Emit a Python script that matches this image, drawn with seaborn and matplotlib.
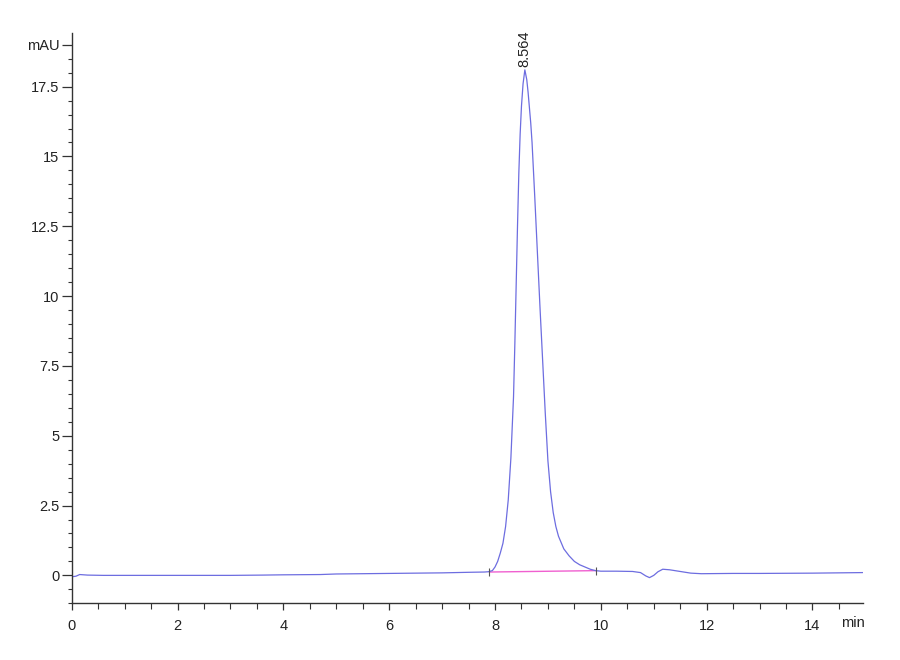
import numpy as np
import pandas as pd
import matplotlib
matplotlib.use("Agg")
import matplotlib.pyplot as plt
from matplotlib.ticker import MultipleLocator
import seaborn as sns

# ---- data ----
time_min = [0.00, 0.08, 0.15, 0.30, 0.60, 1.00, 2.00, 3.00, 3.60, 4.00, 4.70, 5.00,
            6.00, 7.00, 7.50, 7.80, 7.87, 7.95, 8.00, 8.05, 8.10, 8.15, 8.20, 8.25,
            8.30, 8.35, 8.375, 8.40, 8.425, 8.45, 8.475, 8.50, 8.53, 8.564, 8.60, 8.625,
            8.65, 8.675, 8.70, 8.75, 8.80,
            8.85, 8.90, 8.95, 9.00, 9.05, 9.10, 9.15, 9.20, 9.30, 9.40, 9.50, 9.60,
            9.70, 9.80, 9.90, 10.00, 10.30, 10.60, 10.75, 10.85, 10.92, 11.00, 11.08,
            11.17, 11.30, 11.50, 11.70, 11.90, 12.50, 13.00, 14.00, 14.95]
signal_mau = [-0.05, -0.03, 0.03, 0.01, 0.00, 0.00, 0.00, 0.00, 0.01, 0.02, 0.03, 0.05,
              0.07, 0.09, 0.11, 0.12, 0.13, 0.17, 0.30, 0.50, 0.80, 1.15, 1.75, 2.70,
              4.20, 6.40, 8.30, 10.40, 12.50, 14.40, 15.80, 16.80, 17.60, 18.10, 17.75, 17.30,
              16.75, 16.20, 15.50, 13.60, 11.60,
              9.60, 7.70, 5.80, 4.10, 3.00, 2.25, 1.75, 1.40, 0.95, 0.70, 0.50, 0.38,
              0.30, 0.22, 0.17, 0.15, 0.15, 0.14, 0.10, -0.02, -0.08, 0.00, 0.13,
              0.22, 0.20, 0.14, 0.08, 0.06, 0.07, 0.07, 0.08, 0.10]

baseline_t = [7.89, 9.91]
baseline_y = [0.12, 0.17]

peak_rt = 8.564
peak_height = 18.10
peak_label = "8.564"

y_major = [0, 2.5, 5, 7.5, 10, 12.5, 15, 17.5, 19]
y_labels = ["0", "2.5", "5", "7.5", "10", "12.5", "15", "17.5", "mAU"]
x_major = [0, 2, 4, 6, 8, 10, 12, 14]
x_labels = ["0", "2", "4", "6", "8", "10", "12", "14"]

df = pd.DataFrame({"t": time_min, "y": signal_mau})
bl = pd.DataFrame({"t": baseline_t, "y": baseline_y})

sns.set_style("ticks")
plt.rcParams["font.family"] = ["Liberation Sans Narrow", "DejaVu Sans Condensed", "Liberation Sans", "DejaVu Sans"]

fig = plt.figure(figsize=(9, 6.6), dpi=100)
ax = fig.add_axes([0.0797, 0.0859, 0.9586 - 0.0797, 0.95 - 0.0859])

sns.lineplot(data=bl, x="t", y="y", ax=ax, color="#f060d0", lw=1.0, estimator=None)
sns.lineplot(data=df, x="t", y="y", ax=ax, color="#6d6de0", lw=0.9, estimator=None, sort=False)
ax.plot(baseline_t, baseline_y, ls="none", marker="|", ms=6, mew=0.8, color="#555555")

ax.set_xlim(0, 14.95)
ax.set_ylim(-1.0, 19.42)

ax.set_xticks(x_major)
ax.set_xticklabels(x_labels)
ax.set_yticks(y_major)
ax.set_yticklabels(y_labels)
ax.xaxis.set_minor_locator(MultipleLocator(0.5))
ax.yaxis.set_minor_locator(MultipleLocator(0.5))

ax.set_xlabel("")
ax.set_ylabel("")
sns.despine(ax=ax)
for s in ["left", "bottom"]:
    ax.spines[s].set_color("#333333")
    ax.spines[s].set_linewidth(1.0)

ax.tick_params(axis="y", which="major", length=7, width=0.9, color="#333333",
               labelsize=10.5, pad=2, labelcolor="#222222")
ax.tick_params(axis="y", which="minor", length=3, width=0.8, color="#333333")
ax.tick_params(axis="x", which="major", length=5, width=0.9, color="#333333",
               labelsize=10.5, pad=6, labelcolor="#222222")
ax.tick_params(axis="x", which="minor", length=4, width=0.8, color="#333333")

ax.text(0.988, -0.035, "min", transform=ax.transAxes, ha="center", va="center",
        fontsize=10.5, color="#222222")

ax.annotate(peak_label, xy=(peak_rt, peak_height), xytext=(0, 2), textcoords="offset points",
            rotation=90, ha="center", va="bottom", fontsize=10.5, color="#222222")

fig.savefig("out.png", dpi=100)
